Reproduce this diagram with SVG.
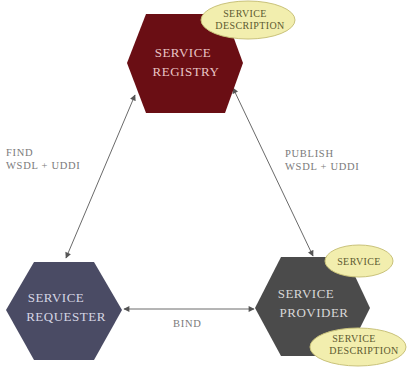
<svg xmlns="http://www.w3.org/2000/svg" width="408" height="371" viewBox="0 0 408 371">
<style>
.hex-t{font-family:"Liberation Serif","Times New Roman",serif;font-size:13px;letter-spacing:0.5px;text-anchor:middle}
.ell{fill:#f2eeae;stroke:#c9c27a;stroke-width:1}
.ell-t{font-family:"Liberation Serif","Times New Roman",serif;font-size:10px;letter-spacing:0.4px;fill:#5d5a30;text-anchor:middle}
.lbl{font-family:"Liberation Serif","Times New Roman",serif;font-size:10.5px;letter-spacing:0.7px;fill:#7a7a7a}
.conn{stroke:#6a6a6a;stroke-width:1;fill:none;marker-start:url(#ah);marker-end:url(#ah)}
</style>
<defs>
<marker id="ah" viewBox="0 0 10 10" refX="9" refY="5" markerWidth="7" markerHeight="6" orient="auto-start-reverse" markerUnits="userSpaceOnUse">
<path d="M0,0 L10,5 L0,10 z" fill="#555"/>
</marker>
</defs>
<rect width="408" height="371" fill="#ffffff"/>
<g id="connectors">
<line class="conn" x1="66" y1="258" x2="135" y2="95"/>
<line class="conn" x1="233" y1="88" x2="313" y2="256"/>
<line class="conn" x1="124" y1="309" x2="254" y2="309"/>
</g>
<g id="registry">
<polygon points="127,63 146,14 225,14 243,63 225,113 146,113" fill="#6a0e14"/>
<text class="hex-t" x="183" y="57" fill="#e8c4c4">SERVICE</text>
<text class="hex-t" x="186" y="76" fill="#e8c4c4">REGISTRY</text>
</g>
<g id="registry-description">
<ellipse class="ell" cx="248" cy="20" rx="47" ry="19"/>
<text class="ell-t" x="245" y="17">SERVICE</text>
<text class="ell-t" x="250" y="29">DESCRIPTION</text>
</g>
<g id="requester">
<polygon points="6,310 34,262 94,262 122,310 94,360 34,360" fill="#4a4b64"/>
<text class="hex-t" x="56" y="302" fill="#d6d6e4">SERVICE</text>
<text class="hex-t" x="66" y="321" fill="#d6d6e4">REQUESTER</text>
</g>
<g id="provider">
<polygon points="255,308 281,257 346,257 370,308 346,356 281,356" fill="#4b4b4b"/>
<text class="hex-t" x="306" y="298" fill="#d8d8d8">SERVICE</text>
<text class="hex-t" x="314" y="317" fill="#d8d8d8">PROVIDER</text>
</g>
<g id="provider-service">
<ellipse class="ell" cx="359" cy="261" rx="34" ry="16"/>
<text class="ell-t" x="359" y="265">SERVICE</text>
</g>
<g id="provider-description">
<ellipse class="ell" cx="358" cy="347" rx="48" ry="19"/>
<text class="ell-t" x="354" y="342">SERVICE</text>
<text class="ell-t" x="364" y="354">DESCRIPTION</text>
</g>
<g id="labels">
<text class="lbl" x="6" y="156">FIND</text>
<text class="lbl" x="6" y="169">WSDL + UDDI</text>
<text class="lbl" x="285" y="157">PUBLISH</text>
<text class="lbl" x="285" y="170">WSDL + UDDI</text>
<text class="lbl" x="173" y="327">BIND</text>
</g>
</svg>
